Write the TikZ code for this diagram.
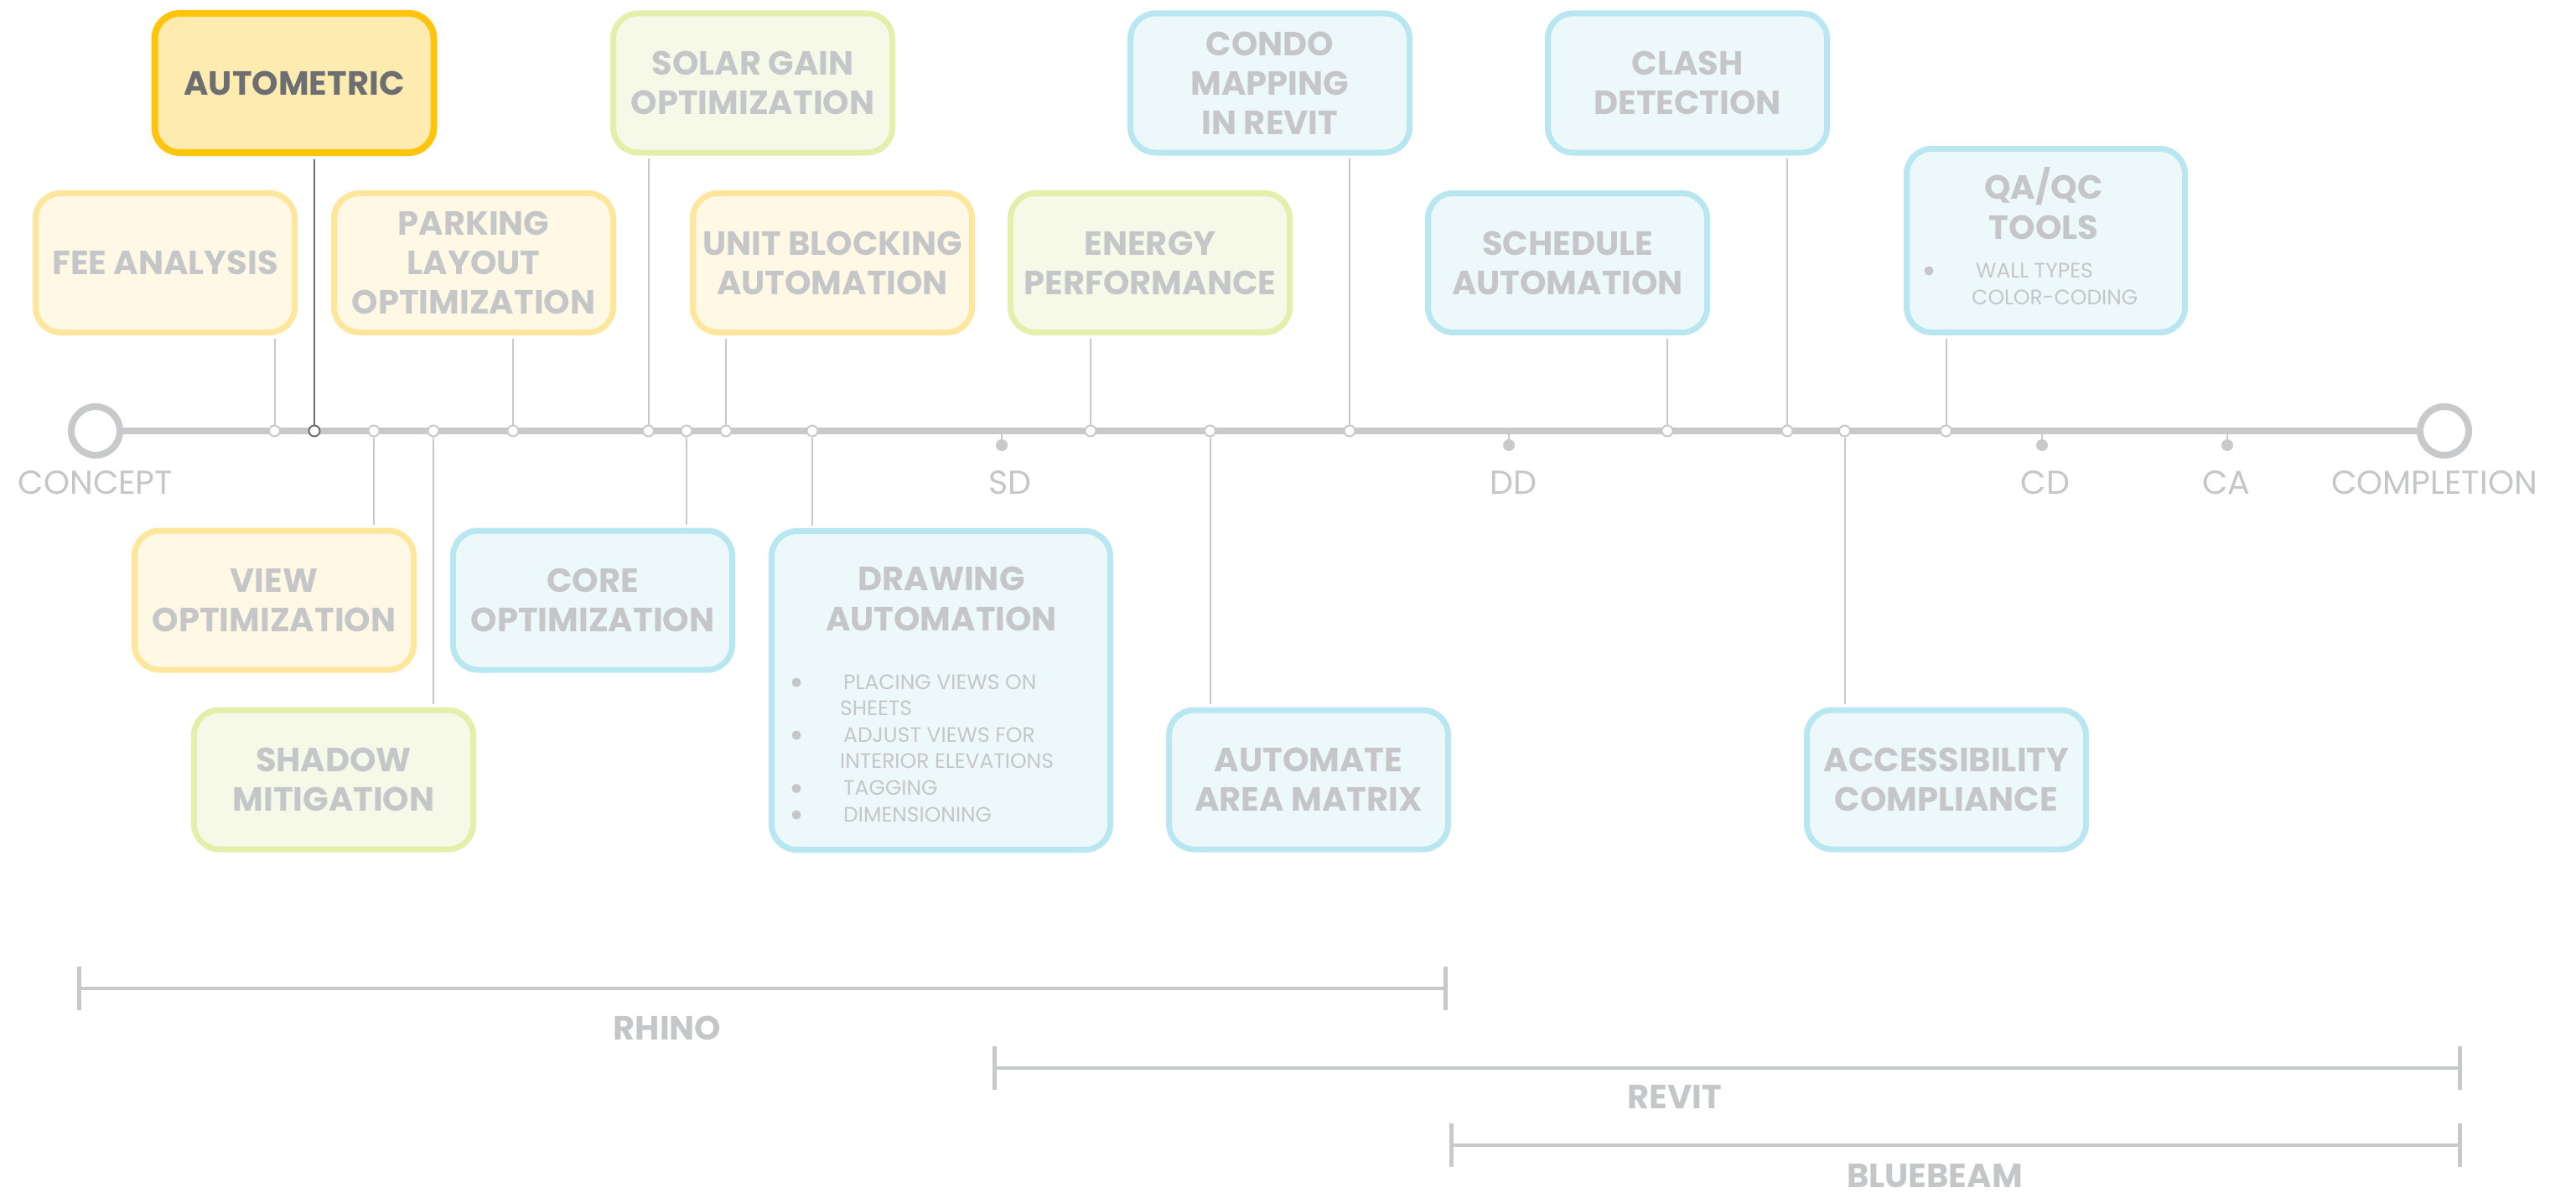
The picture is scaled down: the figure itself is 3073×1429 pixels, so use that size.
\documentclass[tikz,border=0pt]{standalone}
\usepackage{fontspec}
\setmainfont{Poppins}
\usetikzlibrary{calc}
\definecolor{tgray}{HTML}{C5C6C8}
\definecolor{lgray}{HTML}{C8C9CB}
\definecolor{dgray}{HTML}{6D6E71}
\definecolor{yfill}{HTML}{FFF8E5}
\definecolor{yline}{HTML}{FFE69D}
\definecolor{afill}{HTML}{FEEBB0}
\definecolor{aline}{HTML}{FFC40E}
\definecolor{gfill}{HTML}{F6F9E8}
\definecolor{gline}{HTML}{E4EFAB}
\definecolor{bfill}{HTML}{ECF8FA}
\definecolor{bline}{HTML}{B9E7F1}
\newcommand\ttlfont{\bfseries\fontsize{40}{47}\selectfont}
\newcommand\phfont{\fontsize{39.5}{44}\selectfont}
\newcommand\smfont{\fontsize{25}{31.7}\selectfont}
\begin{document}
\begin{tikzpicture}[x=1pt,y=-1pt,
 card/.style={rectangle, rounded corners=30pt, line width=7pt, minimum width=333pt, minimum height=166pt, inner sep=0pt, align=center, font=\ttlfont, text=tgray},
 ycard/.style={card, draw=yline, fill=yfill},
 gcard/.style={card, draw=gline, fill=gfill},
 bcard/.style={card, draw=bline, fill=bfill},
 acard/.style={card, draw=aline, fill=afill, text=dgray, line width=8pt},
 tmark/.style={circle, draw=lgray, fill=white, line width=2pt, minimum size=13pt, inner sep=0pt},
 endc/.style={circle, draw=lgray, fill=white, line width=8pt, minimum size=58pt, inner sep=0pt},
 pdot/.style={circle, fill=lgray, minimum size=14pt, inner sep=0pt},
 conn/.style={draw=lgray, line width=2pt, shorten <=3.5pt},
 stem/.style={draw=lgray, line width=2pt},
 tline/.style={draw=lgray, line width=8pt},
 phase/.style={font=\phfont, text=tgray, anchor=base, inner sep=0pt},
 bar/.style={draw=lgray, line width=4pt},
 tick/.style={draw=lgray, line width=5pt},
 ttl/.style={font=\ttlfont, text=tgray, inner sep=0pt},
 small/.style={font=\smfont, text=tgray, anchor=base west, inner sep=0pt},
 bdot/.style={circle, fill=tgray, minimum size=11pt, inner sep=0pt}
]
\useasboundingbox (0,0) rectangle (3073,1429);
\fill[white] (0,0) rectangle (3073,1429);

% timeline
\node[endc] (c0) at (114,514) {};
\node[endc] (cE) at (2916,514) {};
\draw[tline] (c0) -- (cE);

% phase dots
\node[pdot] (sd) at (1195,531) {};
\node[pdot] (dd) at (1800,531) {};
\node[pdot] (cd) at (2436,531) {};
\node[pdot] (ca) at (2657,531) {};
\foreach \p in {sd,dd,cd,ca} \draw[stem] (\p) -- (\p |- c0);

% phase labels
\node[phase] (lconcept) at (114,589) {CONCEPT};
\node[phase] (lsd) at (1205,589) {SD};
\node[phase] (ldd) at (1805,589) {DD};
\node[phase] (lcd) at (2440,589) {CD};
\node[phase] (lca) at (2656,589) {CA};
\node[phase] (lcompl) at (2904,589) {COMPLETION};

% markers
\node[tmark] (m1) at (327.5,514) {};
\node[tmark, draw=dgray] (m2) at (375,514) {};
\node[tmark] (m3) at (446,514) {};
\node[tmark] (m4) at (517,514) {};
\node[tmark] (m5) at (612,514) {};
\node[tmark] (m6) at (773.5,514) {};
\node[tmark] (m7) at (819,514) {};
\node[tmark] (m8) at (866,514) {};
\node[tmark] (m9) at (969,514) {};
\node[tmark] (m10) at (1301,514) {};
\node[tmark] (m11) at (1443.5,514) {};
\node[tmark] (m12) at (1610,514) {};
\node[tmark] (m13) at (1989,514) {};
\node[tmark] (m14) at (2132,514) {};
\node[tmark] (m15) at (2200.5,514) {};
\node[tmark] (m16) at (2321.5,514) {};

% boxes above
\node[acard] (autom) at (351,99) {AUTOMETRIC};
\node[gcard] (solar) at (898,99) {SOLAR GAIN\\OPTIMIZATION};
\node[bcard] (condo) at (1515,99) {CONDO\\MAPPING\\IN REVIT};
\node[bcard] (clash) at (2013,99) {CLASH\\DETECTION};
\node[ycard, minimum width=309pt] (fee) at (197,313.5) {FEE ANALYSIS};
\node[ycard] (parking) at (565,313.5) {PARKING\\LAYOUT\\OPTIMIZATION};
\node[ycard] (unit) at (993,313.5) {UNIT BLOCKING\\AUTOMATION};
\node[gcard] (energy) at (1372,313.5) {ENERGY\\PERFORMANCE};
\node[bcard] (sched) at (1870,313.5) {SCHEDULE\\AUTOMATION};
\node[bcard, minimum width=332pt, minimum height=219pt] (qaqc) at (2440.5,287) {};
\node[ttl, anchor=base] (qat1) at (2438,237) {QA/QC};
\node[ttl, anchor=base] (qat2) at (2438,285) {TOOLS};
\node[bdot] (qb1) at (2301,323) {};
\node[small] (ql1) at (2357,331) {WALL TYPES};
\node[small] (ql2) at (2352,363) {COLOR-CODING};

% boxes below
\node[ycard] (view) at (327,716) {VIEW\\OPTIMIZATION};
\node[bcard] (core) at (707,716) {CORE\\OPTIMIZATION};
\node[gcard] (shadow) at (398,930) {SHADOW\\MITIGATION};
\node[bcard] (area) at (1561,930) {AUTOMATE\\AREA MATRIX};
\node[bcard] (access) at (2322,930) {ACCESSIBILITY\\COMPLIANCE};
\node[bcard, minimum width=404pt, minimum height=380pt] (drawing) at (1122.5,823.5) {};
\node[ttl, anchor=base] (dt1) at (1123,704) {DRAWING};
\node[ttl, anchor=base] (dt2) at (1123,752) {AUTOMATION};
\node[bdot] (db1) at (950,814) {};
\node[small] (dl1) at (1006,822) {PLACING VIEWS ON};
\node[small] (dl2) at (1002,853.5) {SHEETS};
\node[bdot] (db2) at (950,877) {};
\node[small] (dl3) at (1006,885) {ADJUST VIEWS FOR};
\node[small] (dl4) at (1002,916.5) {INTERIOR ELEVATIONS};
\node[bdot] (db3) at (950,940.5) {};
\node[small] (dl5) at (1006,948.5) {TAGGING};
\node[bdot] (db4) at (950,972) {};
\node[small] (dl6) at (1006,980) {DIMENSIONING};

% connectors
\draw[conn] (fee.south -| m1) -- (m1);
\draw[conn, draw=dgray] (autom.south -| m2) -- (m2);
\draw[conn] (view.north -| m3) -- (m3);
\draw[conn] (shadow.north -| m4) -- (m4);
\draw[conn] (parking.south -| m5) -- (m5);
\draw[conn] (solar.south -| m6) -- (m6);
\draw[conn] (core.north -| m7) -- (m7);
\draw[conn] (unit.south -| m8) -- (m8);
\draw[conn] (drawing.north -| m9) -- (m9);
\draw[conn] (energy.south -| m10) -- (m10);
\draw[conn] (area.north -| m11) -- (m11);
\draw[conn] (condo.south -| m12) -- (m12);
\draw[conn] (sched.south -| m13) -- (m13);
\draw[conn] (clash.south -| m14) -- (m14);
\draw[conn] (access.north -| m15) -- (m15);
\draw[conn] (qaqc.south -| m16) -- (m16);

% software bars
\coordinate (rh1) at (94,1179);
\coordinate (rh2) at (1724,1179);
\coordinate (rv1) at (1186,1274);
\coordinate (rv2) at (2934,1274);
\coordinate (bb1) at (1731,1366);
\coordinate (bb2) at (2934,1366);
\draw[bar] (rh1) -- (rh2);
\draw[bar] (rv1) -- (rv2);
\draw[bar] (bb1) -- (bb2);
\foreach \c in {rh1,rh2,rv1,rv2,bb1,bb2} \draw[tick] (\c) ++(0,-26) -- ++(0,52);
\node[ttl] (lrhino) at (796,1226) {RHINO};
\node[ttl] (lrevit) at (1998,1308) {REVIT};
\node[ttl, anchor=base] (lbb) at (2308,1416) {BLUEBEAM};
\end{tikzpicture}
\end{document}
